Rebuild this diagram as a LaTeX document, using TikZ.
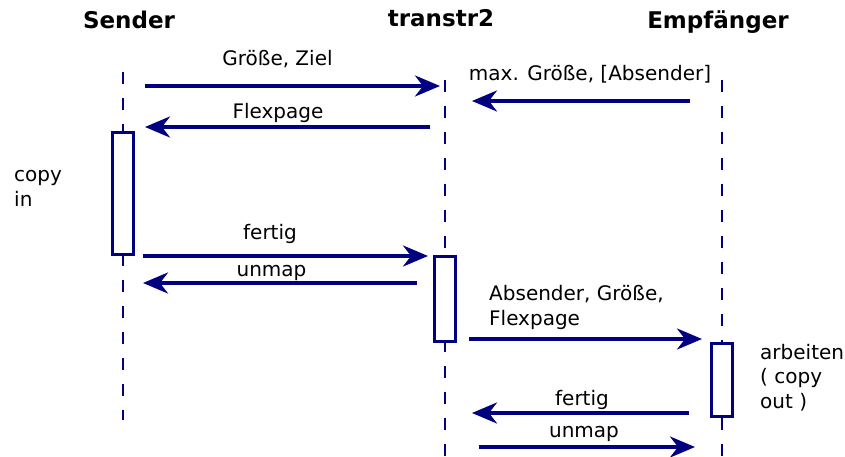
\documentclass[tikz,border=0pt]{standalone}
\usepackage{fontspec}
\setmainfont{DejaVu Sans}
\usetikzlibrary{arrows.meta}
\definecolor{seqblue}{RGB}{0,0,128}
\begin{document}
\begin{tikzpicture}[x=1pt,y=-1pt,
  actor/.style={font=\fontsize{23}{27}\selectfont\bfseries, anchor=base, inner sep=0pt},
  lbl/.style={font=\fontsize{20}{24.5}\selectfont, anchor=base, inner sep=0pt},
  note/.style={font=\fontsize{20}{24.5}\selectfont, anchor=base west, align=left, inner sep=0pt},
  lifeline/.style={draw=seqblue, line width=2.2pt, dash pattern=on 12pt off 14pt},
  activation/.style={draw=seqblue, line width=3pt, fill=white, minimum width=21.5pt, inner sep=0pt},
  msg/.style={draw=seqblue, line width=3.5pt, -{Stealth[length=25pt,width=21pt,inset=8pt]}},
]
\useasboundingbox (0,0) rectangle (845,457);

% participants
\node[actor] (sender) at (129,29) {Sender};
\node[actor] (transtr) at (441,27) {transtr2};
\node[actor] (empf) at (718,29) {Empfänger};

% lifelines
\coordinate (sTop) at (123,72);  \coordinate (sBot) at (123,420);
\coordinate (tTop) at (445,80);  \coordinate (tBot) at (445,457);
\coordinate (eTop) at (722,80);  \coordinate (eBot) at (722,457);
\draw[lifeline] (sTop) -- (sBot);
\draw[lifeline] (tTop) -- (tBot);
\draw[lifeline] (eTop) -- (eBot);

% activation bars
\node[activation, minimum height=122pt] (actS) at (123,193.5) {};
\node[activation, minimum height=85pt]  (actT) at (445,299) {};
\node[activation, minimum height=73pt]  (actE) at (722,380) {};

% message end points
\coordinate (m1a) at (145,86);  \coordinate (m1b) at (440,86);
\coordinate (m2a) at (690,101); \coordinate (m2b) at (472,101);
\coordinate (m3a) at (430,127); \coordinate (m3b) at (145,127);
\coordinate (m4a) at (143,256); \coordinate (m4b) at (428,256);
\coordinate (m5a) at (417,283); \coordinate (m5b) at (143,283);
\coordinate (m6a) at (469,339); \coordinate (m6b) at (702,339);
\coordinate (m7a) at (689,413); \coordinate (m7b) at (472,413);
\coordinate (m8a) at (479,447); \coordinate (m8b) at (695,447);

% messages
\draw[msg] (m1a) -- (m1b);
\draw[msg] (m2a) -- (m2b);
\draw[msg] (m3a) -- (m3b);
\draw[msg] (m4a) -- (m4b);
\draw[msg] (m5a) -- (m5b);
\draw[msg] (m6a) -- (m6b);
\draw[msg] (m7a) -- (m7b);
\draw[msg] (m8a) -- (m8b);

% message labels
\node[lbl] (l1) at (277.5,66) {Größe, Ziel};
\node[lbl] (l2) at (590,81) {max. Größe, [Absender]};
\node[lbl] (l3) at (278,119) {Flexpage};
\node[lbl] (l4) at (270,239) {fertig};
\node[lbl] (l5) at (271.5,276) {unmap};
\node[note] (l6) at (489,325) {Absender, Größe,\\Flexpage};
\node[lbl] (l7) at (582,405) {fertig};
\node[lbl] (l8) at (584,437) {unmap};

% activity notes
\node[note] (copyin) at (14,206) {copy\\in};
\node[note] (work) at (760,408) {arbeiten\\( copy\\out )};
\end{tikzpicture}
\end{document}
